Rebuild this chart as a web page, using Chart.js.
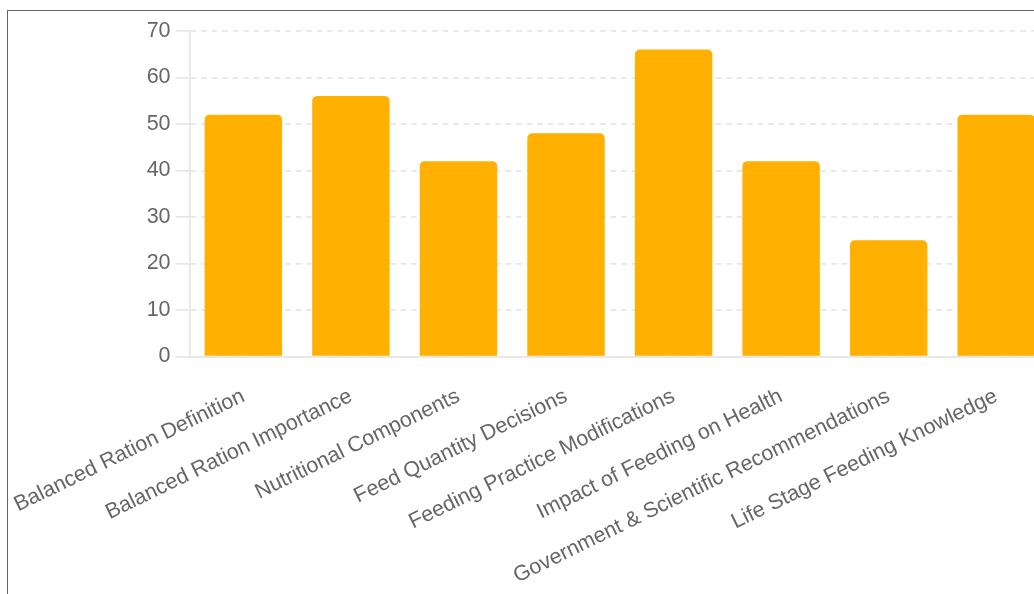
<!DOCTYPE html>
<html>
<head>
<meta charset="utf-8">
<script src="https://cdn.jsdelivr.net/npm/chart.js@4"></script>
<style>
	html, body { margin: 0; padding: 0; overflow: hidden; background: #fff; }
	#frame {
		position: absolute;
		left: 7px;
		top: 10px;
		width: 1100px;
		height: 700px;
		border: 1px solid #666;
		background: #fff;
	}
	#surveyChart { position: absolute; left: -15px; top: 2px; }
</style>
</head>
<body>
<div id="frame">
	<canvas id="surveyChart" width="1058" height="595"></canvas>
</div>
<script>
const categories = [
	'Balanced Ration Definition',
	'Balanced Ration Importance',
	'Nutritional Components',
	'Feed Quantity Decisions',
	'Feeding Practice Modifications',
	'Impact of Feeding on Health',
	'Government & Scientific Recommendations',
	'Life Stage Feeding Knowledge'
];
const responses = [52, 56, 42, 48, 66, 42, 25, 52];
const yTicks = [0, 10, 20, 30, 40, 50, 60, 70];

const tickFont = { family: "'Liberation Sans', Arial, sans-serif", size: 21.5 };

const surveyChart = new Chart(document.getElementById('surveyChart'), {
	type: 'bar',
	data: {
		labels: categories,
		datasets: [{
			label: 'Responses',
			data: responses,
			backgroundColor: '#FFB000',
			borderRadius: 5
		}]
	},
	options: {
		responsive: false,
		animation: false,
		layout: { padding: { left: 10, right: 1, top: 6, bottom: 0 } },
		plugins: {
			legend: { display: false },
			tooltip: { enabled: false }
		},
		scales: {
			x: {
				grid: { display: false },
				border: { display: true, color: '#e6e6e6', width: 1.75 },
				ticks: {
					color: '#666',
					font: tickFont,
					minRotation: 26,
					maxRotation: 26,
					autoSkip: false,
					padding: 19
				}
			},
			y: {
				min: yTicks[0],
				max: yTicks[yTicks.length - 1],
				afterBuildTicks: axis => {
					axis.ticks = yTicks.map(v => ({ value: v }));
				},
				grid: { color: '#e6e6e6', lineWidth: 1.75, tickLength: 14, tickBorderDash: [] },
				border: { display: true, color: '#e6e6e6', width: 1.75, dash: [5.5, 5] },
				ticks: {
					color: '#666',
					font: tickFont,
					padding: 5
				}
			}
		}
	}
});
</script>
</body>
</html>
